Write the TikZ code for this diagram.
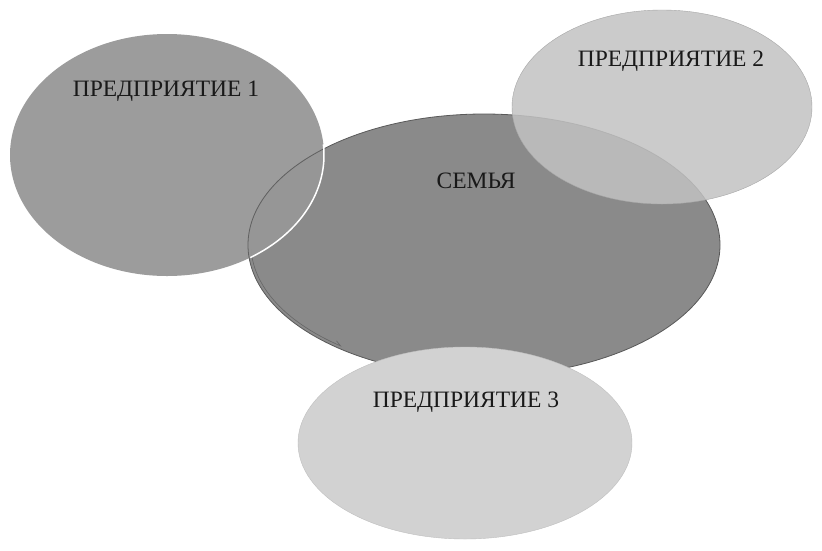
\documentclass[tikz,border=0pt]{standalone}
\usepackage{fontspec}
\setmainfont{Liberation Serif}
\begin{document}
\begin{tikzpicture}[x=1pt,y=-1pt,
  lbl/.style={font=\fontsize{23.5}{26}\selectfont, text=black!90}]
\useasboundingbox[fill=white] (0,0) rectangle (822,550);
\definecolor{famfill}{HTML}{8A8A8A}
\definecolor{p1fill}{HTML}{979797}
\definecolor{p2fill}{HTML}{C2C2C2}
\definecolor{p3fill}{HTML}{D2D2D2}
% family
\path[fill=famfill, draw=black!65, line width=0.8pt] (484,245) ellipse [x radius=236, y radius=131];
\draw[black!60, line width=0.6pt] (484,245) ++(178:233 and 128) arc [start angle=178, end angle=128, x radius=233, y radius=128] -- ++(-4,-5);
% enterprise 1
\path[fill=p1fill, fill opacity=0.95] (167,155) ellipse [x radius=157, y radius=121];
\begin{scope}
  \clip (167,155) ellipse [x radius=157, y radius=121];
  \draw[black!62, line width=0.8pt] (484,245) ellipse [x radius=236, y radius=131];
\end{scope}
\draw[white, line width=1.5pt] (167,155) ++(-5:157 and 121) arc [start angle=-5, end angle=58, x radius=157, y radius=121];
% enterprise 2
\path[fill=p2fill, fill opacity=0.85, draw=black!35, line width=0.4pt] (662,107) ellipse [x radius=150, y radius=97];
% enterprise 3
\path[fill=p3fill, draw=black!25, line width=0.4pt] (465,443) ellipse [x radius=167, y radius=96];
% labels
\node[lbl] (t1) at (166,91) {ПРЕДПРИЯТИЕ 1};
\node[lbl] (t2) at (671,61) {ПРЕДПРИЯТИЕ 2};
\node[lbl] (tf) at (476,181) {СЕМЬЯ};
\node[lbl] (t3) at (466,402) {ПРЕДПРИЯТИЕ 3};
\end{tikzpicture}
\end{document}
